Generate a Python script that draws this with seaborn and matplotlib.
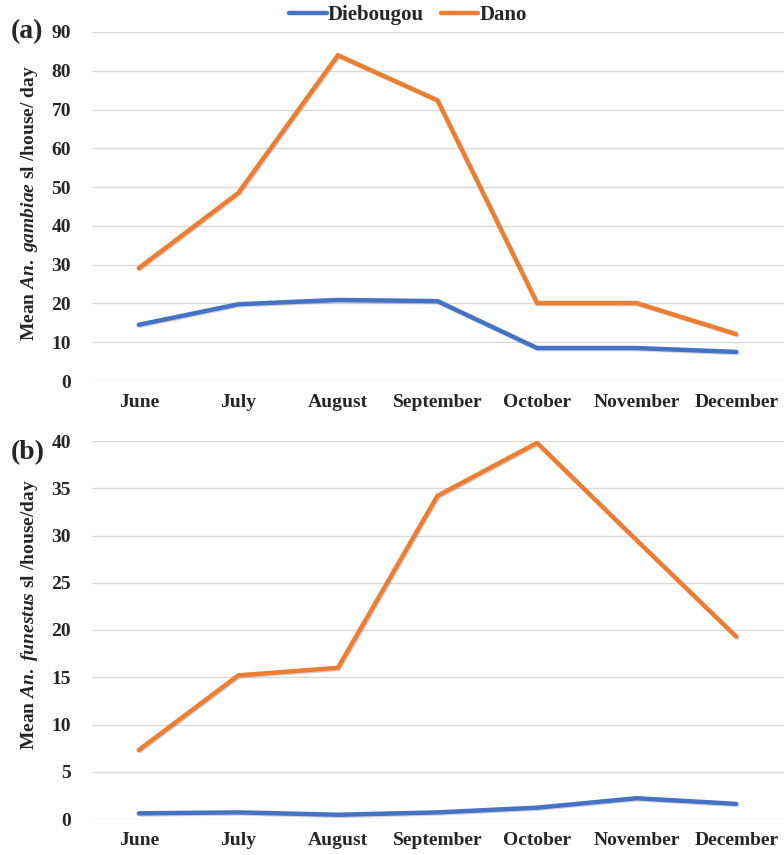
import numpy as np
import pandas as pd
import matplotlib
matplotlib.use("Agg")
import matplotlib.pyplot as plt
import matplotlib.patheffects as pe
import seaborn as sns

months = ["June", "July", "August", "September", "October", "November", "December"]
sites = ["Diebougou", "Dano"]
gambiae_diebougou = [14.5, 19.8, 20.9, 20.6, 8.5, 8.5, 7.5]
gambiae_dano = [29.1, 48.5, 84.0, 72.4, 20.1, 20.1, 12.1]
funestus_diebougou = [0.6, 0.7, 0.45, 0.7, 1.2, 2.2, 1.6]
funestus_dano = [7.3, 15.2, 16.0, 34.2, 39.8, 29.5, 19.3]
gambiae_ticks = list(range(0, 91, 10))
funestus_ticks = list(range(0, 41, 5))

sns.set_theme(style="white")
plt.rcParams["font.family"] = ["Liberation Serif", "DejaVu Serif"]
plt.rcParams["font.weight"] = "bold"
plt.rcParams["mathtext.fontset"] = "custom"
plt.rcParams["mathtext.rm"] = "Liberation Serif:bold"
plt.rcParams["mathtext.it"] = "Liberation Serif:italic:bold"
plt.rcParams["mathtext.bf"] = "Liberation Serif:bold"

palette = {"Diebougou": "#4472C4", "Dano": "#ED7D31"}

def make_df(a, b):
    return pd.DataFrame({
        "month": months * 2,
        "site": [sites[0]] * len(months) + [sites[1]] * len(months),
        "value": list(a) + list(b),
    })

fig = plt.figure(figsize=(7.84, 8.55), dpi=100)
ax1 = fig.add_axes([92 / 784, 1 - 381 / 855, 692 / 784, (381 - 32) / 855])
ax2 = fig.add_axes([92 / 784, 1 - 819 / 855, 692 / 784, (819 - 441) / 855])

shadow = [pe.SimpleLineShadow(offset=(0.8, -0.8), shadow_color="gray", alpha=0.35), pe.Normal()]

for ax, a, b, ticks, ylabel, tag, ly, tagy in [
    (ax1, gambiae_diebougou, gambiae_dano, gambiae_ticks,
     r"Mean $\mathit{An.}$ $\mathit{gambiae}$ sl /house/ day", "(a)", 0.51, 1.0),
    (ax2, funestus_diebougou, funestus_dano, funestus_ticks,
     r"Mean $\mathit{An.}$ $\mathit{funestus}$ sl /house/day", "(b)", 0.54, 0.97),
]:
    df = make_df(a, b)
    sns.lineplot(data=df, x="month", y="value", hue="site", palette=palette,
                 hue_order=sites, sort=False, linewidth=3.2, ax=ax, legend=True)
    for ln in ax.get_lines():
        ln.set_path_effects(shadow)
        ln.set_solid_joinstyle("miter")
    ax.set_xlim(-0.47, len(months) - 0.52)
    ax.set_ylim(ticks[0], ticks[-1])
    ax.set_yticks(ticks)
    ax.yaxis.grid(True, color="#D9D9D9", linewidth=1.0)
    ax.xaxis.grid(False)
    ax.set_axisbelow(True)
    for s in ax.spines.values():
        s.set_visible(False)
    ax.tick_params(axis="both", length=0, labelsize=14)
    ax.tick_params(axis="y", pad=15)
    ax.tick_params(axis="x", pad=9)
    for t in ax.get_xticklabels() + ax.get_yticklabels():
        t.set_fontweight("bold")
    ax.set_xlabel("")
    ax.set_ylabel(ylabel, fontsize=14, fontweight="bold")
    ax.yaxis.set_label_coords(-0.075, ly)
    ax.text(-0.118, tagy, tag, transform=ax.transAxes, fontsize=20,
            fontweight="bold", ha="left", va="center")

handles, labels = ax1.get_legend_handles_labels()
ax1.get_legend().remove()
ax2.get_legend().remove()
for h in handles:
    h.set_path_effects([])
fig.legend(handles, labels, loc="center", bbox_to_anchor=(408 / 784, 1 - 15 / 855),
           ncol=2, frameon=False, handlelength=1.8, handletextpad=0.05,
           columnspacing=0.8, prop={"family": "Liberation Serif", "weight": "bold", "size": 15})

fig.savefig("out.png", dpi=100)
